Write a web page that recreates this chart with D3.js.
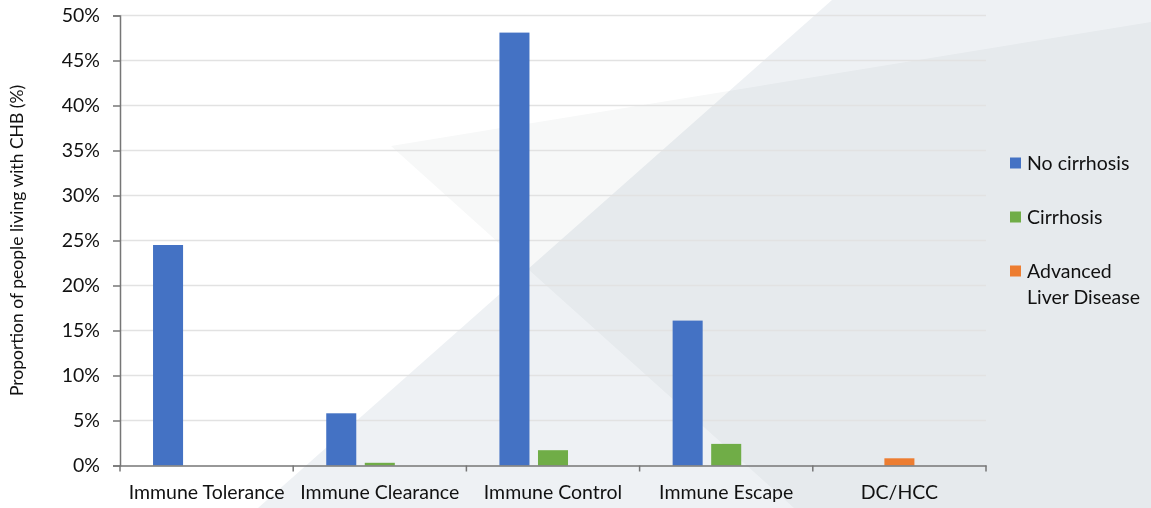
<!DOCTYPE html>
<html>
<head>
<meta charset="utf-8">
<script src="https://cdn.jsdelivr.net/npm/d3@7"></script>
<style>
  html, body { margin: 0; padding: 0; background: #fff; }
  svg { display: block; font-family: Lato, "Open Sans", sans-serif; }
</style>
</head>
<body>
<div id="chart"></div>
<script>
// Phases of chronic hepatitis B
const categories = ["Immune Tolerance", "Immune Clearance", "Immune Control", "Immune Escape", "DC/HCC"];

// Share of people living with CHB (%) per phase
const noCirrhosis = [24.5, 5.8, 48.1, 16.1, 0];
const cirrhosis = [0, 0.3, 1.7, 2.4, 0];
const advancedLiverDisease = [0, 0, 0, 0, 0.8];

const seriesNames = ["No cirrhosis", "Cirrhosis", "Advanced\nLiver Disease"];
const seriesColors = ["#4472c4", "#70ad47", "#ed7d31"];
// column within each phase group; late-stage disease shares the second column
const seriesSlot = [0, 1, 1];
const slotKeys = ["s0", "s1", "s2"];

const yTicks = [0, 5, 10, 15, 20, 25, 30, 35, 40, 45, 50];

const W = 1151, H = 508;
const margin = { left: 120, right: 165, top: 15.5, bottom: 42.5 };
const labelSize = "19.5px";

const svg = d3.select("#chart").append("svg")
  .attr("width", W).attr("height", H);

// decorative backdrop panels
const bg = svg.append("g");
bg.append("polygon")
  .attr("points", [[832, 0], [W, 0], [W, H], [258, H]].map(p => p.join(",")).join(" "))
  .attr("fill", "#eef1f4");
bg.append("polygon")
  .attr("points", [[391, 146], [W, 22], [W, H], [794, H]].map(p => p.join(",")).join(" "))
  .attr("fill", "#f7f8f8")
  .style("mix-blend-mode", "multiply");

const x0 = d3.scaleBand()
  .domain(categories)
  .range([margin.left, W - margin.right])
  .paddingInner(0).paddingOuter(0);

const x1 = d3.scaleBand()
  .domain(slotKeys)
  .range([0, x0.bandwidth()])
  .paddingInner(0.221)
  .paddingOuter(0.857);

const y = d3.scaleLinear()
  .domain([0, 50])
  .range([H - margin.bottom, margin.top]);

// gridlines
svg.append("g")
  .selectAll("line")
  .data(yTicks.filter(t => t > 0))
  .join("line")
  .attr("x1", margin.left).attr("x2", W - margin.right)
  .attr("y1", d => y(d)).attr("y2", d => y(d))
  .attr("stroke", "#e2e2e2")
  .attr("stroke-width", 1.5);

// bars
const seriesValues = [noCirrhosis, cirrhosis, advancedLiverDisease];
const barData = [];
seriesValues.forEach((vals, si) => {
  vals.forEach((v, ci) => {
    if (v > 0) barData.push({ cat: categories[ci], value: v, si });
  });
});

svg.append("g")
  .selectAll("rect")
  .data(barData)
  .join("rect")
  .attr("x", d => x0(d.cat) + x1(slotKeys[seriesSlot[d.si]]))
  .attr("width", x1.bandwidth())
  .attr("y", d => y(d.value))
  .attr("height", d => y(0) - y(d.value))
  .attr("fill", d => seriesColors[d.si]);

// y axis
const yAxis = svg.append("g")
  .attr("transform", `translate(${margin.left},0)`)
  .call(d3.axisLeft(y).tickValues(yTicks).tickSize(7).tickPadding(13)
    .tickFormat(d => d + "%"));
yAxis.select(".domain").attr("stroke", "#767676").attr("stroke-width", 1.5);
yAxis.selectAll(".tick line").attr("stroke", "#767676").attr("stroke-width", 1.5);
yAxis.selectAll(".tick text")
  .attr("fill", "#111")
  .style("font-size", labelSize)
  .style("font-family", "Lato, sans-serif");

// x axis
const xAxis = svg.append("g")
  .attr("transform", `translate(0,${y(0)})`)
  .call(d3.axisBottom(x0).tickSize(0).tickPadding(20));
xAxis.select(".domain").attr("stroke", "#767676").attr("stroke-width", 1.5);
xAxis.selectAll(".tick text")
  .attr("fill", "#111")
  .style("font-size", labelSize)
  .style("font-family", "Lato, sans-serif");

// category boundary ticks
const bounds = categories.map(c => x0(c)).concat([x0(categories[categories.length - 1]) + x0.bandwidth()]);
svg.append("g")
  .selectAll("line")
  .data(bounds)
  .join("line")
  .attr("x1", d => d).attr("x2", d => d)
  .attr("y1", y(0)).attr("y2", y(0) + 6)
  .attr("stroke", "#767676")
  .attr("stroke-width", 1.5);

// y axis title
svg.append("text")
  .attr("transform", `translate(23,${(y(0) + y(50)) / 2}) rotate(-90)`)
  .attr("text-anchor", "middle")
  .attr("fill", "#111")
  .style("font-size", "17.5px")
  .text("Proportion of people living with CHB (%)");

// legend
const legendRows = [163, 217, 271];
const legend = svg.append("g");
seriesNames.forEach((name, i) => {
  const g = legend.append("g").attr("transform", `translate(1010,${legendRows[i]})`);
  g.append("rect").attr("x", 0).attr("y", -5.5).attr("width", 11).attr("height", 11)
    .attr("fill", seriesColors[i]);
  const t = g.append("text").attr("x", 17).attr("y", 7)
    .attr("fill", "#111").style("font-size", labelSize);
  name.split("\n").forEach((line, li) => {
    t.append("tspan").attr("x", 17).attr("dy", li === 0 ? 0 : 26).text(line);
  });
});
</script>
</body>
</html>
